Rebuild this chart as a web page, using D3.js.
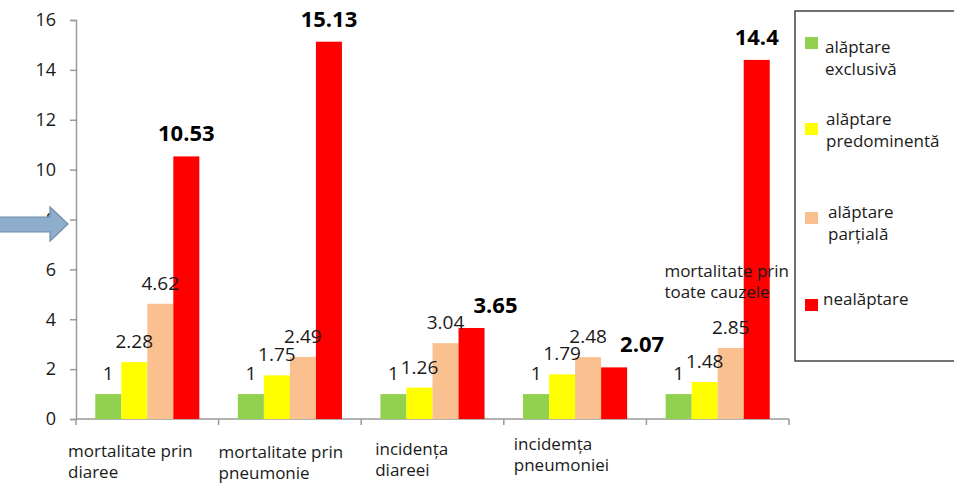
<!DOCTYPE html>
<html>
<head>
<meta charset="utf-8">
<script src="https://cdn.jsdelivr.net/npm/d3@7"></script>
<style>
  html, body { margin: 0; padding: 0; background: #fff; }
  svg { display: block; font-family: "Open Sans", sans-serif; }
</style>
</head>
<body>
<svg id="chart" width="954" height="485"></svg>
<script>
// ---- data ----
const categories = [
  ["mortalitate prin", "diaree"],
  ["mortalitate prin", "pneumonie"],
  ["incidența", "diareei"],
  ["incidemța", "pneumoniei"],
  ["mortalitate prin", "toate cauzele"]
];
const seriesNames = [
  ["alăptare", "exclusivă"],
  ["alăptare", "predominentă"],
  ["alăptare", "parțială"],
  ["nealăptare"]
];
const exclusiva     = [1, 1, 1, 1, 1];
const predominenta  = [2.28, 1.75, 1.26, 1.79, 1.48];
const partiala      = [4.62, 2.49, 3.04, 2.48, 2.85];
const nealaptare    = [10.53, 15.13, 3.65, 2.07, 14.4];
const yTicks = [0, 2, 4, 6, 8, 10, 12, 14, 16];

const seriesValues = [exclusiva, predominenta, partiala, nealaptare];
const colors = ["#92D050", "#FFFF00", "#FAC090", "#FF0000"];

// ---- layout ----
const svg = d3.select("#chart");
const plot = { left: 76, right: 789, top: 20, bottom: 419 };

const x0 = d3.scaleBand()
  .domain(d3.range(categories.length))
  .range([plot.left, plot.right])
  .paddingInner(0).paddingOuter(0);

const x1 = d3.scaleBand()
  .domain(d3.range(seriesValues.length))
  .range([0, x0.bandwidth()])
  .paddingInner(0).paddingOuter(0.74);

const y = d3.scaleLinear().domain([0, 16]).range([plot.bottom, plot.top]);

// ---- y axis ----
const yAxis = svg.append("g")
  .attr("transform", `translate(${plot.left},0)`)
  .call(d3.axisLeft(y).tickValues(yTicks).tickSize(6).tickPadding(14).tickFormat(d3.format("d")));
yAxis.select(".domain").attr("stroke", "#9a9a9a").attr("stroke-width", 1.5);
yAxis.selectAll(".tick line").attr("stroke", "#9a9a9a").attr("stroke-width", 1.5);
yAxis.selectAll(".tick text")
  .attr("font-size", 18).attr("fill", "#1a1a1a")
  .attr("font-family", "Open Sans, sans-serif");

// ---- x axis ----
const xAxisG = svg.append("g").attr("transform", `translate(0,${plot.bottom})`);
xAxisG.append("line")
  .attr("x1", plot.left).attr("x2", plot.right)
  .attr("stroke", "#9a9a9a").attr("stroke-width", 1.5);
const boundaries = d3.range(categories.length + 1).map(i =>
  i < categories.length ? x0(i) : x0(categories.length - 1) + x0.bandwidth());
xAxisG.selectAll("line.tk").data(boundaries).join("line")
  .attr("class", "tk")
  .attr("x1", d => d).attr("x2", d => d)
  .attr("y1", 0).attr("y2", 6)
  .attr("stroke", "#9a9a9a").attr("stroke-width", 1.5);

// ---- bars ----
const groups = svg.append("g").selectAll("g")
  .data(categories.map((c, i) => i))
  .join("g")
  .attr("transform", i => `translate(${x0(i)},0)`);

groups.selectAll("rect")
  .data(i => seriesValues.map((s, k) => ({ k, v: s[i], i })))
  .join("rect")
  .attr("x", d => x1(d.k))
  .attr("y", d => y(d.v))
  .attr("width", x1.bandwidth())
  .attr("height", d => y(0) - y(d.v))
  .attr("fill", d => colors[d.k]);

// ---- value labels ----
const redShift = { 2: 24, 3: 28 };
groups.selectAll("text.val")
  .data(i => seriesValues.map((s, k) => ({ k, v: s[i], i })))
  .join("text")
  .attr("class", "val")
  .attr("x", d => x1(d.k) + x1.bandwidth() / 2 + (d.k === 3 ? (redShift[d.i] || 0) : 0))
  .attr("y", d => y(d.v) - (d.k === 3 ? 15 : 14))
  .attr("text-anchor", "middle")
  .attr("font-size", d => d.k === 3 ? 22 : 19)
  .attr("font-weight", d => d.k === 3 ? "bold" : "normal")
  .attr("fill", d => d.k === 3 ? "#000" : "#1a1a1a")
  .text(d => d.v);

// ---- category labels ----
const catPos = [
  { dx: -8, y: 457 },
  { dx: 0, y: 458 },
  { dx: 14, y: 455 },
  { dx: 10, y: 450 },
  { dx: 18, y: 277 }
];
categories.forEach((lines, i) => {
  const p = catPos[i];
  const t = svg.append("text")
    .attr("x", x0(i) + p.dx)
    .attr("y", p.y)
    .attr("font-size", 17)
    .attr("fill", "#1a1a1a");
  lines.forEach((ln, j) => {
    t.append("tspan").attr("x", x0(i) + p.dx).attr("dy", j === 0 ? 0 : 21).text(ln);
  });
});

// ---- legend ----
const legend = svg.append("g");
legend.append("rect")
  .attr("x", 795).attr("y", 11)
  .attr("width", 170).attr("height", 350)
  .attr("fill", "#fff").attr("stroke", "#444").attr("stroke-width", 1.5);
const legendItems = [
  { sy: 37, ty: 53, tx: 825 },
  { sy: 123, ty: 125, tx: 826 },
  { sy: 212, ty: 218, tx: 828 },
  { sy: 299, ty: 305, tx: 823 }
];
seriesNames.forEach((names, k) => {
  const it = legendItems[k];
  legend.append("rect")
    .attr("x", 805).attr("y", it.sy)
    .attr("width", 13).attr("height", 12)
    .attr("fill", colors[k]);
  const t = legend.append("text")
    .attr("x", it.tx).attr("y", it.ty)
    .attr("font-size", 17).attr("fill", "#1a1a1a");
  names.forEach((n, j) => t.append("tspan").attr("x", it.tx).attr("dy", j === 0 ? 0 : 22).text(n));
});

// ---- arrow ----
svg.append("path")
  .attr("d", "M-5,217 L50,217 L50,207 L68,224 L50,241 L50,232 L-5,232 Z")
  .attr("fill", "#8FAECB").attr("stroke", "#6E8CAD").attr("stroke-width", 1.2);
</script>
</body>
</html>
